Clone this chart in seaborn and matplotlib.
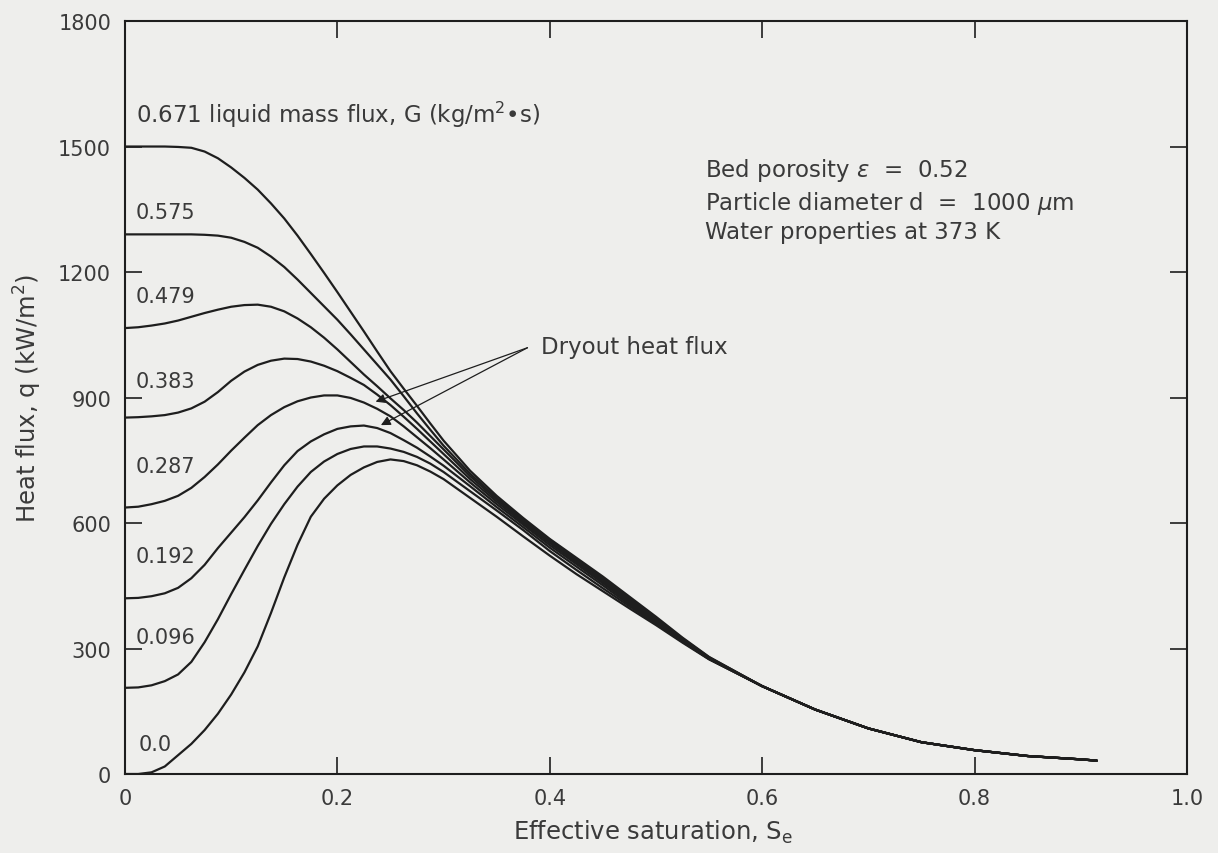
import numpy as np
import pandas as pd
import matplotlib
matplotlib.use("Agg")
import matplotlib.pyplot as plt
import seaborn as sns

# ---------------- data ----------------
S_HEAD = [0.0, 0.0125, 0.025, 0.0375, 0.05, 0.0625, 0.075, 0.0875, 0.1, 0.1125,
          0.125, 0.1375, 0.15, 0.1625, 0.175, 0.1875, 0.2, 0.2125, 0.225, 0.2375,
          0.25, 0.2625, 0.275, 0.2875, 0.3, 0.325, 0.35, 0.375, 0.4, 0.425,
          0.45, 0.475, 0.5, 0.525, 0.55]
S_TAIL = [0.60, 0.65, 0.70, 0.75, 0.80, 0.85, 0.90, 0.915]
Q_TAIL = [210, 154, 109, 76, 57, 43, 35, 32]

G_LABELS = ["0.671", "0.575", "0.479", "0.383", "0.287", "0.192", "0.096", "0.0"]

Q_0671 = [1500, 1500, 1500, 1500, 1499, 1497, 1488, 1472, 1450, 1425,
          1397, 1364, 1328, 1287, 1243, 1198, 1152, 1105, 1058, 1010,
          963, 921, 880, 838, 797, 725, 665, 612, 562, 517,
          472, 424, 376, 326, 280]
Q_0575 = [1290, 1290, 1290, 1290, 1290, 1290, 1289, 1287, 1282, 1272,
          1258, 1237, 1212, 1182, 1150, 1118, 1086, 1051, 1015, 979,
          943, 903, 862, 823, 785, 718, 660, 608, 560, 514,
          468, 420, 373, 324, 279]
Q_0479 = [1066, 1068, 1072, 1077, 1084, 1093, 1102, 1110, 1117, 1121,
          1122, 1117, 1106, 1089, 1068, 1043, 1015, 985, 955, 927,
          898, 870, 840, 808, 776, 712, 656, 604, 556, 510,
          464, 416, 370, 322, 278]
Q_0383 = [852, 853, 855, 858, 864, 874, 890, 913, 940, 962,
          978, 988, 993, 992, 986, 976, 963, 947, 930, 907,
          882, 854, 825, 795, 765, 705, 651, 600, 552, 506,
          460, 413, 367, 320, 277]
Q_0287 = [637, 639, 645, 653, 665, 684, 710, 740, 773, 804,
          834, 858, 877, 891, 900, 905, 905, 899, 888, 873,
          855, 831, 805, 779, 752, 697, 645, 596, 547, 502,
          456, 409, 364, 318, 276]
Q_0192 = [420, 421, 425, 432, 445, 468, 500, 540, 577, 614,
          654, 697, 738, 772, 795, 812, 825, 831, 833, 827,
          815, 798, 780, 759, 737, 688, 638, 590, 541, 496,
          451, 405, 361, 317, 275]
Q_0096 = [206, 207, 212, 222, 238, 268, 315, 370, 430, 488,
          545, 598, 645, 687, 722, 747, 765, 777, 783, 783,
          778, 770, 758, 742, 722, 676, 630, 583, 533, 488,
          444, 401, 359, 316, 275]
Q_0000 = [0, 0, 4, 18, 45, 72, 105, 144, 190, 243,
          305, 385, 470, 548, 615, 658, 690, 715, 733, 746,
          752, 748, 738, 723, 705, 660, 615, 568, 522, 478,
          437, 396, 356, 314, 274]

Q_HEADS = [Q_0671, Q_0575, Q_0479, Q_0383, Q_0287, Q_0192, Q_0096, Q_0000]

X_TICKS = [0, 0.2, 0.4, 0.6, 0.8, 1.0]
X_TICKLABELS = ["0", "0.2", "0.4", "0.6", "0.8", "1.0"]
Y_TICKS = [0, 300, 600, 900, 1200, 1500, 1800]
Y_TICKLABELS = ["0", "300", "600", "900", "1200", "1500", "1800"]

# ---------------- long-form table ----------------
rows = []
for g, head in zip(G_LABELS, Q_HEADS):
    for s, q in zip(S_HEAD + S_TAIL, head + Q_TAIL):
        rows.append({"S": s, "q": q, "G": g})
df = pd.DataFrame(rows)

# ---------------- style ----------------
sns.set_style("ticks")
plt.rcParams["font.family"] = ["DejaVu Sans"]
plt.rcParams["mathtext.fontset"] = "dejavusans"

BG = "#eeeeec"
INK = "#1e1e1e"
TXT = "#3a3a3a"
FS_NUM = 15
FS_TXT = 16.5
FS_AX = 17.5

fig = plt.figure(figsize=(12.18, 8.54), dpi=100, facecolor=BG)
ax = fig.add_axes([0.1026, 0.0925, 0.8719, 0.8817])
ax.set_facecolor(BG)

sns.lineplot(data=df, x="S", y="q", hue="G", hue_order=G_LABELS,
             palette=[INK] * len(G_LABELS), units="G", estimator=None,
             linewidth=1.6, legend=False, ax=ax)

ax.set_xlim(0, 1.0)
ax.set_ylim(0, 1800)
ax.set_xticks(X_TICKS)
ax.set_xticklabels(X_TICKLABELS)
ax.set_yticks(Y_TICKS)
ax.set_yticklabels(Y_TICKLABELS)
ax.tick_params(direction="in", length=12, width=1.2, top=True, right=True,
               labelsize=FS_NUM, pad=10, colors=INK, labelcolor=TXT)
for sp in ax.spines.values():
    sp.set_linewidth(1.5)
    sp.set_color(INK)

ax.set_xlabel(r"Effective saturation, S$_\mathregular{e}$", fontsize=FS_AX, color=TXT, labelpad=8)
ax.xaxis.set_label_coords(0.497, -0.058)
ax.set_ylabel(r"Heat flux, q (kW/m$^2$)", fontsize=FS_AX, color=TXT, labelpad=10)

# curve labels
LABEL_Y = [1578, 1343, 1143, 940, 736, 521, 327, 72]
for i, (g, ly) in enumerate(zip(G_LABELS, LABEL_Y)):
    if i == 0:
        ax.text(0.010, ly, g + r" liquid mass flux, G (kg/m$^2$•s)", fontsize=FS_TXT,
                color=TXT, ha="left", va="center")
    else:
        ax.text(0.010 if g != "0.0" else 0.013, ly, g, fontsize=FS_NUM, color=TXT,
                ha="left", va="center")

# parameter block
ax.text(0.546, 1446, r"Bed porosity $\epsilon$  =  0.52", fontsize=FS_TXT, color=TXT, va="center")
ax.text(0.546, 1367, r"Particle diameter d  =  1000 $\mu$m", fontsize=FS_TXT, color=TXT, va="center")
ax.text(0.546, 1296, "Water properties at 373 K", fontsize=FS_TXT, color=TXT, va="center")

# dryout annotation
ax.text(0.392, 1021, "Dryout heat flux", fontsize=FS_TXT, color=TXT, va="center", ha="left")
for tip in [(0.236, 890), (0.241, 834)]:
    ax.annotate("", xy=tip, xytext=(0.379, 1019),
                arrowprops=dict(arrowstyle="-|>", lw=0.9, color=INK,
                                mutation_scale=14, shrinkA=0, shrinkB=0))

fig.savefig("out.png", dpi=100, facecolor=BG)
